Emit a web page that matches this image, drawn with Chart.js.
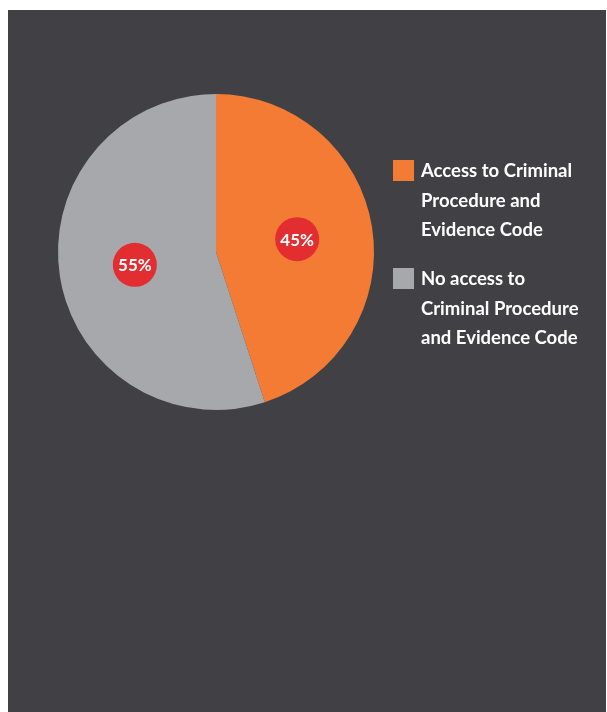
<!DOCTYPE html>
<html>
<head>
<meta charset="utf-8">
<script src="https://cdn.jsdelivr.net/npm/chart.js@4"></script>
<style>
  body { margin: 0; background: #ffffff; }
  #panel { position: absolute; left: 8px; top: 10px; width: 598px; height: 702px; background: #414045; }
  canvas { display: block; }
</style>
</head>
<body>
<div id="panel"><canvas id="chart" width="598" height="702"></canvas></div>
<script>
const categories = [
    ['Access to Criminal', 'Procedure and', 'Evidence Code'],
    ['No access to', 'Criminal Procedure', 'and Evidence Code']
];
const shares = [45, 55];
const sliceColors = ['#f47b33', '#a7a8ab'];

// red badges with the percentage, placed about halfway out along each slice
const badgePlugin = {
    id: 'badges',
    afterDatasetsDraw(chart) {
        const ctx = chart.ctx;
        const meta = chart.getDatasetMeta(0);
        ctx.save();
        meta.data.forEach((arc, i) => {
            const mid = (arc.startAngle + arc.endAngle) / 2;
            const dist = arc.outerRadius * 0.52;
            const x = arc.x + Math.cos(mid) * dist;
            const y = arc.y + Math.sin(mid) * dist;
            ctx.beginPath();
            ctx.arc(x, y, 22, 0, Math.PI * 2);
            ctx.fillStyle = '#e22d31';
            ctx.fill();
            ctx.fillStyle = '#ffffff';
            ctx.font = 'bold 17px Lato';
            ctx.textAlign = 'center';
            ctx.textBaseline = 'middle';
            ctx.fillText(shares[i] + '%', x, y + 1);
        });
        ctx.restore();
    }
};

// legend on the right with wrapped labels
const sideLegend = {
    id: 'sideLegend',
    afterDraw(chart) {
        const ctx = chart.ctx;
        ctx.save();
        categories.forEach((lines, i) => {
            const top = 150 + i * 108;
            ctx.fillStyle = sliceColors[i];
            ctx.fillRect(385, top, 21, 21);
            ctx.fillStyle = '#ffffff';
            ctx.font = 'bold 18.5px Lato';
            ctx.textAlign = 'left';
            ctx.textBaseline = 'middle';
            lines.forEach((line, j) => {
                ctx.fillText(line, 413, top + 11 + j * 29.7);
            });
        });
        ctx.restore();
    }
};

new Chart(document.getElementById('chart'), {
    type: 'pie',
    data: {
        labels: categories,
        datasets: [{
            data: shares,
            backgroundColor: sliceColors,
            borderWidth: 0
        }]
    },
    options: {
        responsive: false,
        animation: false,
        layout: { padding: { left: 50, top: 84, right: 232, bottom: 302 } },
        plugins: {
            legend: { display: false },
            tooltip: { enabled: false }
        }
    },
    plugins: [badgePlugin, sideLegend]
});
</script>
</body>
</html>
